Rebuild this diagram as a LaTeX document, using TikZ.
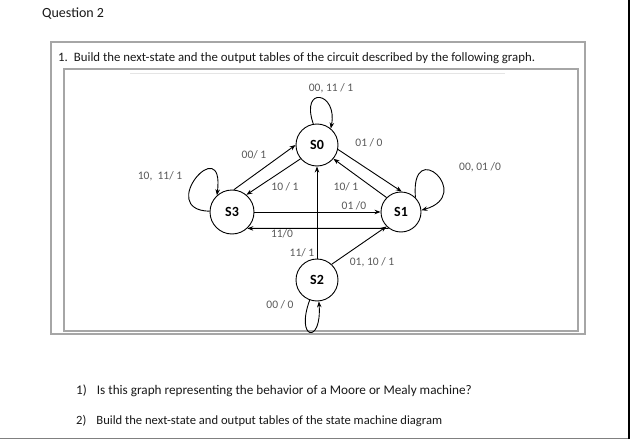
\documentclass[tikz,border=0pt]{standalone}
\usepackage{fontspec}
\setmainfont{Carlito}
\usetikzlibrary{arrows.meta}
\begin{document}
\begin{tikzpicture}[x=1pt,y=-1pt,
  state/.style={circle,draw,line width=0.9pt,minimum size=42pt,inner sep=0pt,font=\fontsize{14}{14}\selectfont\bfseries},
  tr/.style={line width=0.9pt,-{Stealth[length=6pt,width=4.5pt]}},
  lbl/.style={font=\fontsize{11.5}{11.5}\selectfont,text=black!65,inner sep=0pt},
  boxline/.style={draw=black!35,line width=1.3pt},
  txt/.style={anchor=west,inner sep=0pt,text=black!90}]
\useasboundingbox (0,0) rectangle (630,439);
\fill[white] (0,0) rectangle (630,439);
\draw[line width=2pt] (629,0) -- (629,439);
\draw[black!50,line width=1.5pt] (0,438.3) -- (628,438.3);

% boxes
\draw[boxline] (51,42) rectangle (585,334);
\draw[boxline] (64,69) rectangle (578,331);
\draw[black!10,line width=0.6pt] (130,73) -- (505,73);

% texts
\node[txt,font=\fontsize{14}{14}\selectfont] (q) at (42,14) {Question 2};
\node[txt,font=\fontsize{12.8}{12.8}\selectfont] (t1) at (58,58) {1.\hspace{6pt}Build the next-state and the output tables of the circuit described by the following graph.};
\node[txt,font=\fontsize{13.2}{13.2}\selectfont] (a1) at (76,391) {1)\hspace{10pt}Is this graph representing the behavior of a Moore or Mealy machine?};
\node[txt,font=\fontsize{12.6}{12.6}\selectfont] (a2) at (76,421) {2)\hspace{10pt}Build the next-state and output tables of the state machine diagram};

% states
\node[state] (S0) at (317,145) {S0};
\node[state,minimum size=44pt] (S3) at (232,212) {S3};
\node[state,minimum size=40pt] (S1) at (401,212) {S1};
\node[state] (S2) at (317,280) {S2};

% transitions
\draw[tr] (S0.-12) -- (S1.88);
\draw[tr] (S1.135) -- (S0.-40);
\draw[tr] (S3.85) -- (S0.180);
\draw[tr] (S0.220) -- (S3.50);
\draw[tr] (S2.north) -- (S0.south);
\draw[tr] (S3.east) -- (S1.west);
\draw[tr] (S1.233) -- (S3.-47);
\draw[tr] (S2.47) -- (S1.225);

% self loops
\draw[tr] (S0.100) .. controls (300,85) and (338,92) .. (S0.50);
\draw[tr] (S3.178) .. controls (155,210) and (225,130) .. (S3.132);
\draw[tr] (S1.45) .. controls (410,135) and (475,195) .. (S1.5);
\draw[tr] (S2.250) .. controls (295,340) and (322,345) .. (S2.275);

% labels
\node[lbl] (l1) at (331,88) {00, 11 / 1};
\node[lbl] (l2) at (369,143) {01 / 0};
\node[lbl] (l3) at (254,155) {00/ 1};
\node[lbl] (l4) at (285,187) {10 / 1};
\node[lbl] (l5) at (346,187) {10/ 1};
\node[lbl] (l6) at (160,176) {10,\ \ 11/ 1};
\node[lbl] (l7) at (480,167) {00, 01 /0};
\node[lbl] (l8) at (354,206) {01 /0};
\node[lbl] (l9) at (282,234) {11/0};
\node[lbl] (l10) at (302,253) {11/ 1};
\node[lbl] (l11) at (372,262) {01, 10 / 1};
\node[lbl] (l12) at (280,305) {00 / 0};
\end{tikzpicture}
\end{document}
